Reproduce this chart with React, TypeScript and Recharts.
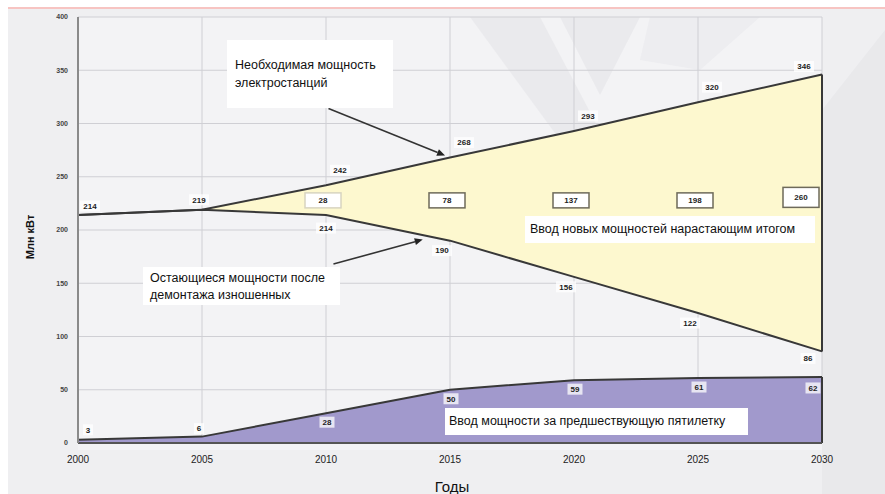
import React from "react";
import {
  Area,
  CartesianGrid,
  ComposedChart,
  Line,
  ReferenceLine,
  Scatter,
  XAxis,
  YAxis,
} from "recharts";

// values, Mln kW
const years = [2000, 2005, 2010, 2015, 2020, 2025, 2030];
const requiredPower = [214, 219, 242, 268, 293, 320, 346];
const remainingPower = [214, 219, 214, 190, 156, 122, 86];
const cumulativeNew = [null, null, 28, 78, 137, 198, 260];
const fiveYearInput = [3, 6, 28, 50, 59, 61, 62];
const yTicks = [0, 50, 100, 150, 200, 250, 300, 350, 400];

// the boxed running totals sit on one row inside the yellow band
const BOX_ROW = 225;

const W = 885;
const H = 494;
const FONT = "'Liberation Sans', Arial, sans-serif";
const LINE = "#383838";

const chartData = years.map((year, i) => ({
  year,
  required: requiredPower[i],
  remaining: remainingPower[i],
  band: [remainingPower[i], requiredPower[i]],
  input: fiveYearInput[i],
}));

const boxData = years
  .map((year, i) => ({ year, row: BOX_ROW, total: cumulativeNew[i] }))
  .filter((d) => d.total != null);

type TagProps = {
  x: number;
  y: number;
  text: string;
  boxed?: boolean;
  h?: number;
  border?: string;
};

function Tag({ x, y, text, boxed, h = 11, border = "#6e6a5a" }: TagProps) {
  const w = boxed ? 36 : text.length * 5 + 5;
  return (
    <g>
      <rect
        x={x - w / 2}
        y={y - h / 2}
        width={w}
        height={h}
        fill="#ffffff"
        fillOpacity={boxed ? 1 : 0.75}
        stroke={boxed ? border : "none"}
        strokeWidth={1.5}
      />
      <text
        x={x}
        y={y}
        dy="0.35em"
        textAnchor="middle"
        fontFamily={FONT}
        fontSize={8}
        fontWeight={700}
        fill="#222"
      >
        {text}
      </text>
    </g>
  );
}

function upperLabel(props: any) {
  const { x, y, value, index } = props;
  if (index === 0) return <Tag x={x + 12} y={y - 9} text={String(value)} />;
  if (index === 1) return <Tag x={x - 3} y={y - 10} text={String(value)} />;
  if (index === years.length - 1) return <Tag x={x - 18} y={y - 8} text={String(value)} />;
  return <Tag x={x + 14} y={y - 15} text={String(value)} />;
}

function lowerLabel(props: any) {
  const { x, y, value, index } = props;
  if (index < 2) return <g />;
  if (index === 2) return <Tag x={x} y={y + 13} text={String(value)} />;
  if (index === years.length - 1) return <Tag x={x - 14} y={y + 7} text={String(value)} />;
  return <Tag x={x - 8} y={y + 10} text={String(value)} />;
}

function inputLabel(props: any) {
  const { x, y, value, index } = props;
  if (index === 0) return <Tag x={x + 10} y={y - 10} text={String(value)} />;
  if (index === 1) return <Tag x={x - 3} y={y - 8} text={String(value)} />;
  if (index === years.length - 1) return <Tag x={x - 9} y={y + 11} text={String(value)} />;
  return <Tag x={x + 1} y={y + 9} text={String(value)} />;
}

function TotalBox(props: any) {
  const { cx, cy, payload, index } = props;
  const last = index === boxData.length - 1;
  return (
    <Tag
      x={last ? cx - 21 : cx - 3}
      y={last ? cy - 6 : cy - 3}
      h={last ? 20 : 15}
      text={String(payload.total)}
      border={index === 0 ? "#d8d4c0" : "#6e6a5a"}
      boxed
    />
  );
}

function Arrow(props: any) {
  const { x1, y1, x2, y2 } = props;
  const a = Math.atan2(y2 - y1, x2 - x1);
  const L = 8;
  const s = 3.5;
  const bx = x2 - L * Math.cos(a);
  const by = y2 - L * Math.sin(a);
  const pts = [
    `${x2},${y2}`,
    `${bx + s * Math.sin(a)},${by - s * Math.cos(a)}`,
    `${bx - s * Math.sin(a)},${by + s * Math.cos(a)}`,
  ].join(" ");
  return (
    <g>
      <line x1={x1} y1={y1} x2={bx} y2={by} stroke="#333" strokeWidth={1.6} />
      <polygon points={pts} fill="#222" />
    </g>
  );
}

const noteStyle: React.CSSProperties = {
  position: "absolute",
  background: "#ffffff",
  fontFamily: FONT,
  fontSize: 12.5,
  color: "#111",
  boxSizing: "border-box",
  whiteSpace: "nowrap",
};

export default function App() {
  return (
    <div
      style={{
        position: "absolute",
        left: 0,
        top: 0,
        width: W,
        height: H,
        background: "#ffffff",
        overflow: "hidden",
      }}
    >
      <svg width={W} height={H} style={{ position: "absolute", left: 0, top: 0 }}>
        <rect x={8} y={8} width={W - 8} height={H - 8} fill="#efeff1" />
        <rect x={8} y={7} width={W - 8} height={2} fill="#f7c4c2" />
        <rect x={78} y={17} width={744} height={433} fill="#f3f3f5" />
        <polygon points="470,17 540,17 610,150 560,140" fill="#e0e0e4" opacity={0.45} />
        <polygon points="560,17 640,17 600,95" fill="#dcdce0" opacity={0.4} />
        <polygon points="650,17 760,17 700,70 640,60" fill="#e4e4e8" opacity={0.4} />
        <polygon points="822,110 885,30 885,494 822,494" fill="#e4e4e8" opacity={0.6} />
      </svg>

      <div style={{ position: "absolute", left: 0, top: 0 }}>
        <ComposedChart
          width={W}
          height={H}
          data={chartData}
          margin={{ top: 17, right: 63, bottom: 0, left: 0 }}
        >
          <CartesianGrid stroke="#cfcfd4" strokeWidth={1} fill="none" />
          <XAxis
            type="number"
            dataKey="year"
            domain={[2000, 2030]}
            ticks={years}
            tickSize={0}
            tickMargin={13}
            height={51}
            axisLine={{ stroke: "#555", strokeWidth: 2 }}
            tick={{ fontSize: 10, fill: "#222", fontFamily: FONT }}
            label={{
              content: () => (
                <text
                  x={452}
                  y={486}
                  textAnchor="middle"
                  dominantBaseline="central"
                  fontFamily={FONT}
                  fontSize={15}
                  fill="#111"
                >
                  Годы
                </text>
              ),
            }}
          />
          <YAxis
            type="number"
            domain={[0, 400]}
            ticks={yTicks}
            tickSize={0}
            tickMargin={10}
            width={78}
            axisLine={{ stroke: "#8a8a8a", strokeWidth: 2 }}
            tick={{ fontSize: 7, fontWeight: 700, fill: "#444", fontFamily: FONT }}
            label={{
              content: () => (
                <text
                  transform="translate(30,237) rotate(-90)"
                  textAnchor="middle"
                  dominantBaseline="central"
                  fontFamily={FONT}
                  fontSize={11}
                  fontWeight={700}
                  fill="#111"
                >
                  Млн кВт
                </text>
              ),
            }}
          />
          <Area
            type="linear"
            dataKey="band"
            fill="#fdf8cf"
            fillOpacity={1}
            stroke="none"
            isAnimationActive={false}
          />
          <Area
            type="linear"
            dataKey="input"
            baseValue={0}
            fill="#a199cc"
            fillOpacity={1}
            stroke={LINE}
            strokeWidth={2}
            isAnimationActive={false}
            label={inputLabel}
          />
          <Line
            type="linear"
            dataKey="required"
            stroke={LINE}
            strokeWidth={2}
            dot={false}
            isAnimationActive={false}
            label={upperLabel}
          />
          <Line
            type="linear"
            dataKey="remaining"
            stroke={LINE}
            strokeWidth={2}
            dot={false}
            isAnimationActive={false}
            label={lowerLabel}
          />
          <ReferenceLine
            segment={[
              { x: 2030, y: remainingPower[6] },
              { x: 2030, y: requiredPower[6] },
            ]}
            stroke={LINE}
            strokeWidth={2}
          />
          <ReferenceLine
            segment={[
              { x: 2030, y: 0 },
              { x: 2030, y: fiveYearInput[6] },
            ]}
            stroke={LINE}
            strokeWidth={2}
          />
          <Scatter
            data={boxData}
            dataKey="row"
            shape={TotalBox}
            isAnimationActive={false}
          />
          <ReferenceLine
            segment={[
              { x: 2010.1, y: 314 },
              { x: 2014.8, y: 270 },
            ]}
            shape={Arrow}
          />
          <ReferenceLine
            segment={[
              { x: 2010.3, y: 168 },
              { x: 2013.9, y: 191 },
            ]}
            shape={Arrow}
          />
        </ComposedChart>
      </div>

      <div
        style={{
          ...noteStyle,
          left: 227,
          top: 40,
          width: 166,
          height: 68,
          padding: "16px 0 0 8px",
          lineHeight: "18px",
        }}
      >
        Необходимая мощность
        <br />
        электростанций
      </div>
      <div
        style={{
          ...noteStyle,
          left: 143,
          top: 267,
          width: 197,
          height: 38,
          padding: "3px 0 0 7px",
          lineHeight: "17px",
        }}
      >
        Остающиеся мощности после
        <br />
        демонтажа изношенных
      </div>
      <div
        style={{
          ...noteStyle,
          left: 525,
          top: 216,
          width: 290,
          height: 27,
          padding: "5px 0 0 5px",
          lineHeight: "17px",
        }}
      >
        Ввод новых мощностей нарастающим итогом
      </div>
      <div
        style={{
          ...noteStyle,
          left: 445,
          top: 408,
          width: 303,
          height: 27,
          padding: "5px 0 0 4px",
          lineHeight: "17px",
        }}
      >
        Ввод мощности за предшествующую пятилетку
      </div>
    </div>
  );
}
